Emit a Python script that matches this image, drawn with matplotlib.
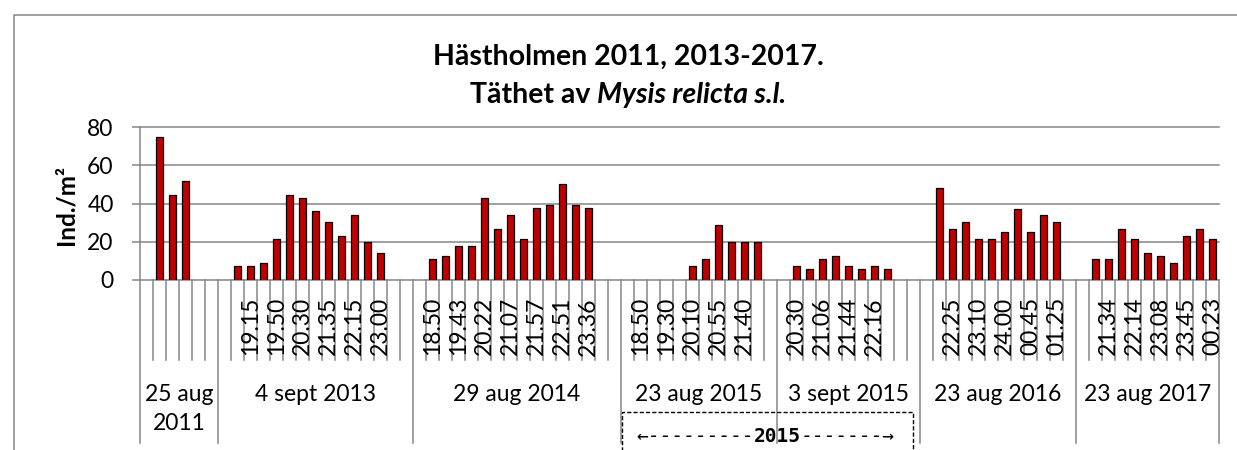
import numpy as np
import matplotlib
matplotlib.use('Agg')
import matplotlib.pyplot as plt
from matplotlib.lines import Line2D
from matplotlib.transforms import blended_transform_factory

# ====================================================================
# DATA (läst från diagrammet)
# ====================================================================

grupper = ['25 aug\n2011', '4 sept 2013', '29 aug 2014', '23 aug 2015',
           '3 sept 2015', '23 aug 2016', '23 aug 2017']

# täthet, Ind./m² (nan = ingen stapel)
nan = np.nan
varden_2011 = [nan, 75.0, 44.7, 51.7, nan, nan]
varden_2013 = [nan, 7.2, 7.2, 9.0, 21.7, 44.6, 42.9, 35.9, 30.5, 23.2, 33.9, 19.7, 14.3, nan, nan]
varden_2014 = [nan, 10.8, 12.6, 17.8, 17.8, 42.8, 26.9, 33.9, 21.7, 37.6, 39.3, 50.1, 39.3, 37.6, nan, nan]
varden_2015a = [nan, nan, nan, nan, nan, 7.3, 10.8, 28.6, 19.7, 19.7, 19.7, nan]
varden_2015b = [nan, 7.3, 5.6, 10.8, 12.6, 7.3, 5.6, 7.3, 5.6, nan, nan]
varden_2016 = [nan, 48.0, 26.7, 30.4, 21.5, 21.5, 25.0, 37.4, 25.0, 33.9, 30.4, nan]
varden_2017 = [nan, 10.8, 10.8, 26.7, 21.5, 14.3, 12.6, 8.9, 23.2, 26.7, 21.5]

# klockslag (tom sträng = etikett visas inte)
tider_2011 = ['', '', '', '', '', '']
tider_2013 = ['', '', '19.15', '', '19.50', '', '20.30', '', '21.35', '', '22.15', '', '23.00', '', '']
tider_2014 = ['', '18.50', '', '19.43', '', '20.22', '', '21.07', '', '21.57', '', '22.51', '', '23.36', '', '']
tider_2015a = ['', '18.50', '', '19.30', '', '20.10', '', '20.55', '', '21.40', '', '']
tider_2015b = ['', '20.30', '', '21.06', '', '21.44', '', '22.16', '', '', '']
tider_2016 = ['', '', '22.25', '', '23.10', '', '24.00', '', '00.45', '', '01.25', '']
tider_2017 = ['', '', '21.34', '', '22.14', '', '23.08', '', '23.45', '', '00.23']

alla_varden = [varden_2011, varden_2013, varden_2014, varden_2015a,
               varden_2015b, varden_2016, varden_2017]
alla_tider = [tider_2011, tider_2013, tider_2014, tider_2015a,
              tider_2015b, tider_2016, tider_2017]

# ====================================================================
# LAYOUT (pixlar i bilden)
# ====================================================================

W, H = 1237, 450
X0, X1 = 140, 1219        # plottytans vänster/höger kant
Y0, Y80 = 280, 127.3      # y-pixel för 0 resp. 80
GRA = '#868686'
ROD = '#C00000'

plt.rcParams['font.family'] = ['Lato', 'DejaVu Sans']


def fx(px):
    return px / W


def fy(py):
    return 1 - py / H


def y_ax(py):
    # pixel-y under axeln -> axelkoordinat
    return (Y0 - py) / (Y0 - Y80)


def x_ax(px):
    return (px - X0) / (X1 - X0)


fig = plt.figure(figsize=(W / 100, H / 100), dpi=100)
ax = fig.add_axes([fx(X0), fy(Y0), (X1 - X0) / W, (Y0 - Y80) / H])

varden = np.concatenate([np.array(v, dtype=float) for v in alla_varden])
tider = sum(alla_tider, [])
n = len(varden)
pos = np.arange(n) + 0.5
ok = ~np.isnan(varden)

ax.bar(pos[ok], varden[ok], width=0.48, color=ROD, edgecolor='black',
       linewidth=0.9, zorder=3)

ax.set_xlim(0, n)
ax.set_ylim(0, 80)
ax.set_yticks([0, 20, 40, 60, 80])
ax.set_xticks([])
ax.yaxis.grid(True, color=GRA, linewidth=1.1, zorder=0)
ax.set_axisbelow(True)
for s in ['top', 'right', 'bottom']:
    ax.spines[s].set_visible(False)
ax.spines['left'].set_color(GRA)
ax.spines['left'].set_linewidth(1.1)
ax.tick_params(axis='y', direction='out', length=6, width=1.1, color=GRA,
               labelsize=16.5, pad=13)
for gl in ax.get_ygridlines():
    gl.set_clip_on(False)

ax.set_ylabel('Ind./m²', fontsize=17.5, fontweight='bold')
ax.yaxis.set_label_coords(x_ax(77), y_ax(205))

# kategoriaxel med två nivåer
tr = blended_transform_factory(ax.transData, ax.transAxes)
gransar = np.cumsum([0] + [len(v) for v in alla_varden])
for k in range(n + 1):
    if k in gransar:
        ax.plot([k, k], [0, y_ax(443)], color=GRA, lw=1.1, transform=tr, clip_on=False)
    else:
        ax.plot([k, k], [0, y_ax(360)], color=GRA, lw=1.1, transform=tr, clip_on=False)

for k, t in enumerate(tider):
    if t:
        ax.text(k + 0.5, y_ax(297), t, rotation=90, ha='center', va='top',
                fontsize=16.5, transform=tr)

for i, g in enumerate(grupper):
    mitt = (gransar[i] + gransar[i + 1]) / 2
    ax.text(mitt, y_ax(384), g, ha='center', va='top', fontsize=16.5,
            linespacing=1.5, transform=tr)

# ram runt diagrammet
fig.add_artist(Line2D([fx(14), fx(14), 1.0], [0.0, fy(15), fy(15)], color=GRA, lw=1.1))

# rubrik
fig.text(fx(628), fy(57), 'Hästholmen 2011, 2013-2017.', ha='center', va='center',
         fontsize=20.5, fontweight='bold')
r = fig.canvas.get_renderer()
t1 = fig.text(0, fy(95), 'Täthet av', ha='left', va='center', fontsize=20.5, fontweight='bold')
t2 = fig.text(0, fy(95), 'Mysis relicta s.l.', ha='left', va='center', fontsize=20.5,
              fontweight='bold', style='italic')
w1 = t1.get_window_extent(r).width
w2 = t2.get_window_extent(r).width
mellanrum = 7
start = 628 - (w1 + mellanrum + w2) / 2
t1.set_x(fx(start))
t2.set_x(fx(start + w1 + mellanrum))

# streckad ruta med 2015-pil
fig.add_artist(Line2D([fx(621.7), fx(621.7), fx(913), fx(913)],
                      [fy(470), fy(411.7), fy(411.7), fy(470)],
                      color='black', lw=1.0, linestyle=(0, (3, 1.5))))
mono = ['DejaVu Sans Mono', 'DejaVu Sans']
fs = 14
cw = fs * 100 / 72 * 0.602
xm = 777.5
fig.text(fx(xm), fy(437), '2015', ha='center', va='center', fontsize=fs,
         fontweight='bold', family=mono)
fig.text(fx(xm - 2 * cw), fy(437), '←---------', ha='right', va='center',
         fontsize=fs, family=mono)
fig.text(fx(xm + 2 * cw), fy(437), '-------→', ha='left', va='center',
         fontsize=fs, family=mono)

fig.savefig('out.png', dpi=100)
